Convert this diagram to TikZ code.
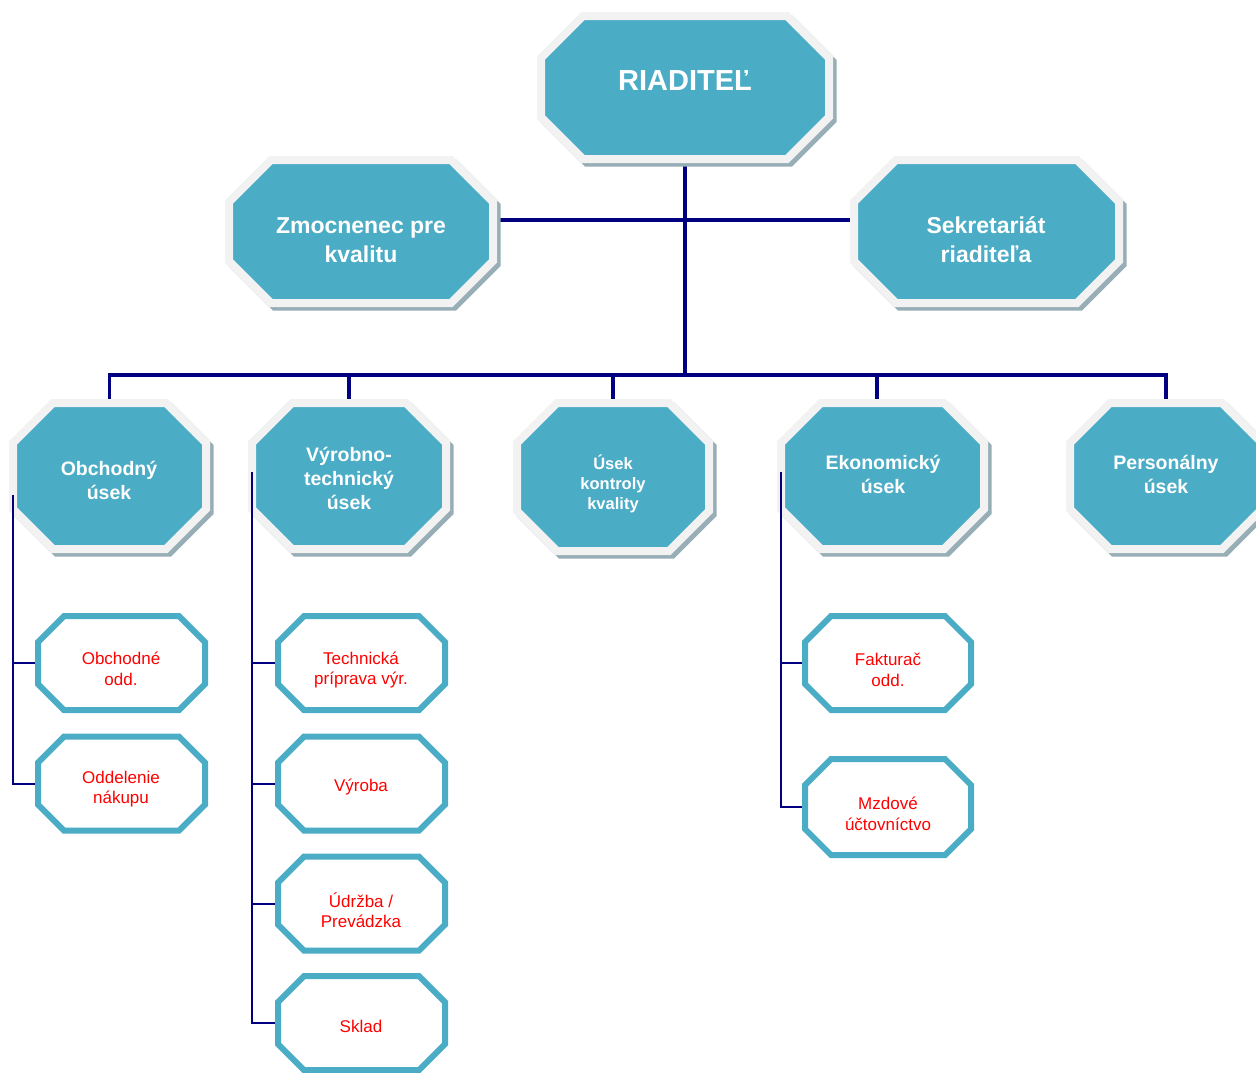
\documentclass[tikz,border=0pt]{standalone}
\usepackage{fontspec}
\setmainfont{Liberation Sans}
\usetikzlibrary{calc,backgrounds}
\definecolor{boxteal}{HTML}{4BACC6}
\definecolor{boxrim}{HTML}{F2F2F2}
\definecolor{boxshade}{HTML}{97AEB6}
\definecolor{linenavy}{HTML}{000080}
\definecolor{subred}{HTML}{FF0000}
% octagon drawn around a named (empty) geometry node: #1 node, #2 corner cut, #3 style
\newcommand\octo[3]{\path[#3]
  ($(#1.north west)+(#2,0)$) -- ($(#1.north east)+(-#2,0)$) --
  ($(#1.north east)+(0,-#2)$) -- ($(#1.south east)+(0,#2)$) --
  ($(#1.south east)+(-#2,0)$) -- ($(#1.south west)+(#2,0)$) --
  ($(#1.south west)+(0,#2)$) -- ($(#1.north west)+(0,-#2)$) -- cycle;}
\newcommand\bigocto[2]{%
  \octo{#1}{#2}{bigshade, transform canvas={shift={(3.5pt,-3.5pt)}}}%
  \octo{#1}{#2}{bigbox}}
\begin{document}
\begin{tikzpicture}[x=1pt,y=1pt,
  geo/.style 2 args={inner sep=0pt,outer sep=0pt,minimum width=#1pt,minimum height=#2pt},
  bigshade/.style={fill=boxshade,draw=boxshade,line width=8pt,line join=miter},
  bigbox/.style={fill=boxteal,draw=boxrim,line width=8pt,line join=miter},
  subbox/.style={fill=white,draw=boxteal,line width=6pt,line join=miter},
  toptxt/.style={text=white,inner sep=0pt,align=center,font=\bfseries\fontsize{29}{34}\selectfont},
  bigtxt/.style={text=white,inner sep=0pt,align=center,font=\bfseries\fontsize{23}{29}\selectfont},
  midtxt/.style={text=white,inner sep=0pt,align=center,font=\bfseries\fontsize{19.5}{24}\selectfont},
  smalltxt/.style={text=white,inner sep=0pt,align=center,font=\bfseries\fontsize{16.5}{20}\selectfont},
  subtxt/.style={text=subred,inner sep=0pt,align=center,font=\fontsize{17}{20.5}\selectfont},
  thickln/.style={draw=linenavy,line width=3.5pt},
  thinln/.style={draw=linenavy,line width=2pt}]
\useasboundingbox (0,0) rectangle (1256,-1072);

% ---- top level
\node[geo={288}{143}] (rd) at (685,-87.5) {};
\bigocto{rd}{42}
\node[toptxt] (rd-t) at (685,-81) {RIADITEĽ};

\node[geo={264}{143}] (zm) at (361,-231.5) {};
\bigocto{zm}{42}
\node[bigtxt] (zm-t) at (361,-240) {Zmocnenec pre\\kvalitu};

\node[geo={265}{143}] (sk) at (986.5,-231.5) {};
\bigocto{sk}{42}
\node[bigtxt] (sk-t) at (986,-240) {Sekretariát\\riaditeľa};

% ---- departments
\node[geo={193}{146}] (ob) at (109.5,-476) {};
\bigocto{ob}{40}
\node[midtxt] (ob-t) at (109,-480) {Obchodný\\úsek};

\node[geo={194}{146}] (vt) at (349,-476) {};
\bigocto{vt}{40}
\node[midtxt] (vt-t) at (349,-478) {Výrobno-\\technický\\úsek};

\node[geo={192}{148}] (uk) at (613,-477) {};
\bigocto{uk}{40}
\node[smalltxt] (uk-t) at (613,-484) {Úsek\\kontroly\\kvality};

\node[geo={203}{146}] (ek) at (882.5,-476) {};
\bigocto{ek}{40}
\node[midtxt] (ek-t) at (883,-474) {Ekonomický\\úsek};

\node[geo={192}{146}] (pe) at (1166,-476) {};
\bigocto{pe}{40}
\node[midtxt] (pe-t) at (1166,-474) {Personálny\\úsek};

% ---- connectors (thick, behind the boxes)
\coordinate (mid) at (685,-220);
\coordinate (bus) at (685,-375);
\begin{scope}[on background layer]
  \draw[thickln] (rd.south) -- (bus);
  \draw[thickln] (zm.east |- mid) -- (sk.west |- mid);
  \draw[thickln] (ob.north) -- (ob.north |- bus) -- (pe.north |- bus) -- (pe.north);
  \draw[thickln] (vt.north) -- (vt.north |- bus);
  \draw[thickln] (uk.north) -- (uk.north |- bus);
  \draw[thickln] ([xshift=-5.5pt]ek.north) -- ([xshift=-5.5pt]ek.north |- bus);
\end{scope}

% ---- sub-units: geometry nodes
\node[geo={167}{94}] (oo) at (121.5,-663) {};
\node[geo={167}{94}] (on) at (121.5,-783.5) {};
\node[geo={167}{94}] (tp) at (361.5,-663) {};
\node[geo={167}{94}] (vy) at (361.5,-783.5) {};
\node[geo={167}{94}] (ud) at (361.5,-903.5) {};
\node[geo={167}{94}] (sl) at (361.5,-1023) {};
\node[geo={166}{94}] (fa) at (888,-663) {};
\node[geo={166}{96}] (mz) at (888,-807) {};

% ---- thin connectors
\draw[thinln] ([yshift=-19pt]ob.west) |- (oo.west);
\draw[thinln] ([yshift=-19pt]ob.west) |- (on.west);
\draw[thinln] ([yshift=4pt]vt.west) |- (tp.west);
\draw[thinln] ([yshift=4pt]vt.west) |- (vy.west);
\draw[thinln] ([yshift=4pt]vt.west) |- (ud.west);
\draw[thinln] ([yshift=4pt]vt.west) |- (sl.west);
\draw[thinln] ([yshift=4pt]ek.west) |- (fa.west);
\draw[thinln] ([yshift=4pt]ek.west) |- (mz.west);

% ---- sub-unit boxes and texts
\octo{oo}{26}{subbox}
\octo{on}{26}{subbox}
\octo{tp}{26}{subbox}
\octo{vy}{26}{subbox}
\octo{ud}{26}{subbox}
\octo{sl}{26}{subbox}
\octo{fa}{26}{subbox}
\octo{mz}{26}{subbox}
\node[subtxt] (oo-t) at (121,-669) {Obchodné\\odd.};
\node[subtxt] (on-t) at (121,-789) {Oddelenie\\nákupu};
\node[subtxt] (tp-t) at (361,-670) {Technická\\príprava výr.};
\node[subtxt] (vy-t) at (361,-787) {Výroba};
\node[subtxt] (ud-t) at (361,-910) {Údržba /\\Prevádzka};
\node[subtxt] (sl-t) at (361,-1026) {Sklad};
\node[subtxt] (fa-t) at (888,-670) {Fakturač\\odd.};
\node[subtxt] (mz-t) at (888,-814) {Mzdové\\účtovníctvo};
\end{tikzpicture}
\end{document}
